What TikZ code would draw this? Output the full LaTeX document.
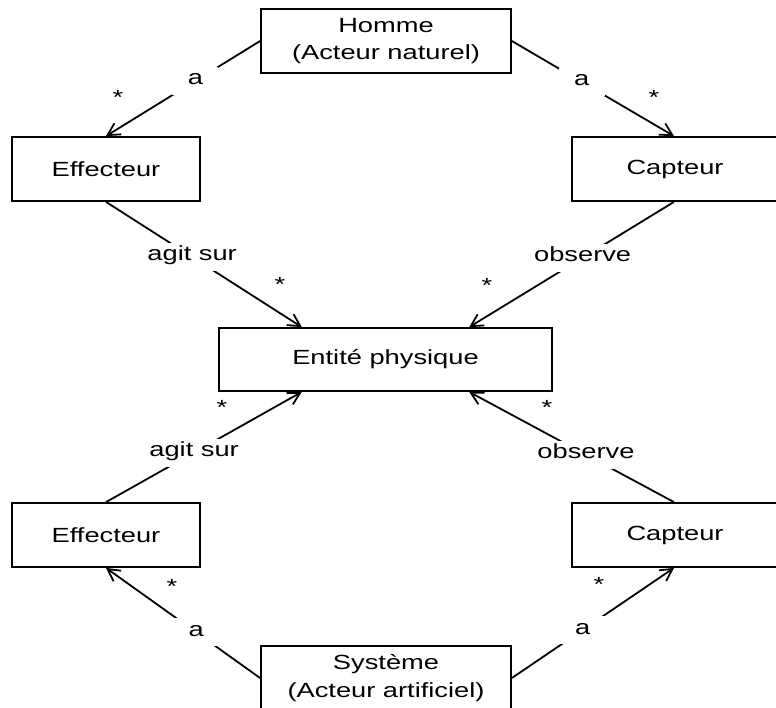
\documentclass[tikz,border=0pt]{standalone}
\usepackage{fontspec}
\setmainfont{Liberation Sans}[FakeStretch=1.33]
\usetikzlibrary{arrows.meta,calc}
\begin{document}
\begin{tikzpicture}[x=1pt,y=-1pt,
  font=\fontsize{20.5}{27.5}\selectfont,
  box/.style={draw, line width=1.8pt, inner sep=0pt, align=center},
  wide/.style={box, minimum width=250pt, minimum height=64pt},
  part/.style={box, minimum width=188pt, minimum height=64pt},
  assoc/.style={line width=1.8pt, -{Straight Barb[length=12pt,width=13pt,line width=1.8pt]}},
  lbl/.style={fill=white, inner xsep=2pt, inner ysep=0pt, text height=18pt, text depth=10pt, minimum width=46pt},
  mult/.style={anchor=base, inner sep=0pt}]
\useasboundingbox (0,0) rectangle (776,707);
\clip (0,0) rectangle (776,707);

% classes
\node[wide] (homme) at (386,41) {Homme\\(Acteur naturel)};
\node[part] (eff1) at (106,169) {Effecteur};
\node[part, minimum width=210pt] (cap1) at (677,169) {Capteur\hspace{4pt}};
\node[box, minimum width=333pt, minimum height=63pt] (ent) at (385.5,359.5) {Entité physique};
\node[part] (eff2) at (106,535) {Effecteur};
\node[part, minimum width=210pt] (cap2) at (677,535) {Capteur\hspace{4pt}};
\node[wide] (sys) at (386,678) {Système\\(Acteur artificiel)};

% attachment points on the shared entity
\coordinate (entA) at ($(ent.north west)!0.25!(ent.north east)$);
\coordinate (entB) at ($(ent.north west)!0.75!(ent.north east)$);
\coordinate (entC) at ($(ent.south west)!0.25!(ent.south east)$);
\coordinate (entD) at ($(ent.south west)!0.75!(ent.south east)$);
\coordinate (capT) at ($(cap1.north)+(-3,0)$);
\coordinate (capTb) at ($(cap1.south)+(-3,0)$);
\coordinate (capB) at ($(cap2.north)+(-3,0)$);
\coordinate (capBb) at ($(cap2.south)+(-3,0)$);

% associations
\draw[assoc] (homme.west) -- node[lbl, pos=0.42] (l1) {a} (eff1.north);
\draw[assoc] (homme.east) -- node[lbl, pos=0.43] (l2) {a} (capT);
\draw[assoc] (eff1.south) -- node[lbl, pos=0.44] (l3) {agit sur} (entA);
\draw[assoc] (capTb) -- node[lbl, pos=0.446] (l4) {observe} (entB);
\draw[assoc] (eff2.north) -- node[lbl, pos=0.45] (l5) {agit sur} (entC);
\draw[assoc] (capB) -- node[lbl, pos=0.43] (l6) {observe} (entD);
\draw[assoc] (sys.west) -- node[lbl, pos=0.415] (l7) {a} (eff2.south);
\draw[assoc] (sys.east) -- node[lbl, pos=0.436] (l8) {a} (capBb);

% multiplicities
\node[mult] (m1) at (118,104) {*};
\node[mult] (m2) at (654,104) {*};
\node[mult] (m3) at (280,291) {*};
\node[mult] (m4) at (487,292) {*};
\node[mult] (m5) at (222,414) {*};
\node[mult] (m6) at (547,414) {*};
\node[mult] (m7) at (172,593) {*};
\node[mult] (m8) at (599,591) {*};
\end{tikzpicture}
\end{document}
